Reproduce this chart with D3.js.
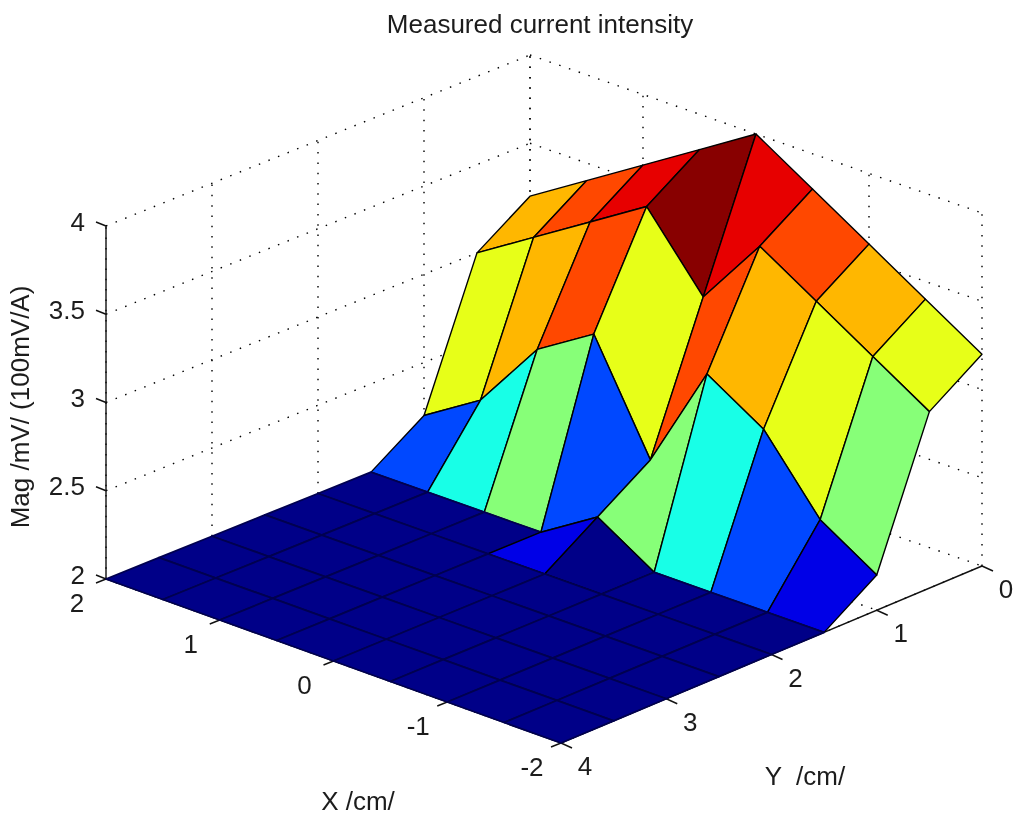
<!DOCTYPE html>
<html>
<head>
<meta charset="utf-8">
<script src="https://cdn.jsdelivr.net/npm/d3@7"></script>
<style>
html,body{margin:0;padding:0;background:#fff;}
svg{display:block;filter:blur(0.45px);}
text{font-family:"Liberation Sans",Arial,sans-serif;fill:#1c1c1c;}
</style>
</head>
<body>
<svg id="chart" width="1024" height="821"></svg>
<script>
const titleText = "Measured current intensity";
const xLabel = "X /cm/";
const yLabel = "Y  /cm/";
const zLabel = "Mag /mV/ (100mV/A)";

const xValues = [-2,-1.5,-1,-0.5,0,0.5,1,1.5,2];
const yValues = [0,0.5,1,1.5,2,2.5,3,3.5,4];
const z_y0   = [3.2,3.4,3.6,3.8,4.0,3.8,3.6,3.4,3.2];
const z_y05  = [3.0,3.2,3.4,3.6,3.2,3.6,3.4,3.2,3.0];
const z_y1   = [2.2,2.4,2.8,3.0,2.4,3.0,2.8,2.4,2.2];
const z_y15  = [2,2,2,2,2.2,2,2,2,2];
const z_y2   = [2,2,2,2,2,2,2,2,2];
const z_y25  = [2,2,2,2,2,2,2,2,2];
const z_y3   = [2,2,2,2,2,2,2,2,2];
const z_y35  = [2,2,2,2,2,2,2,2,2];
const z_y4   = [2,2,2,2,2,2,2,2,2];
const zRows = [z_y0,z_y05,z_y1,z_y15,z_y2,z_y25,z_y3,z_y35,z_y4];

const xTicks = [-2,-1,0,1,2];
const yTicks = [0,1,2,3,4];
const zTicks = [2,2.5,3,3.5,4];
const xTickLabels = ["-2","-1","0","1","2"];
const yTickLabels = ["0","1","2","3","4"];
const zTickLabels = ["2","2.5","3","3.5","4"];

const svg = d3.select("#chart");

// projection: floor corners through linear scales, height through a linear scale
const uScale = d3.scaleLinear().domain([2,-2]).range([0,1]);
const wScale = d3.scaleLinear().domain([0,4]).range([0,1]);
const backEdgeX = d3.scaleLinear().domain([0,1]).range([530,982]);
const backEdgeY = d3.scaleLinear().domain([0,1]).range([408,566]);
const frontEdgeX = d3.scaleLinear().domain([0,1]).range([106,561]);
const frontEdgeY = d3.scaleLinear().domain([0,1]).range([579,743]);
const zScale = d3.scaleLinear().domain([2,4]).range([0,-353]);
function project(x,y,z){
  const u = uScale(x), w = wScale(y);
  const px = backEdgeX(u)*(1-w)+frontEdgeX(u)*w;
  const py = backEdgeY(u)*(1-w)+frontEdgeY(u)*w;
  return [px, py+zScale(z)];
}
const line = d3.line();

// jet colormap, 64 levels
const jet = d3.scaleLinear()
  .domain([0,0.125,0.375,0.625,0.875,1])
  .range(["#000080","#0000ff","#00ffff","#ffff00","#ff0000","#800000"]);
const levels = d3.scaleQuantize().domain([2,4]).range(d3.range(64).map(i=>(i+0.5)/64));
const colour = z => jet(levels(z));

// dotted grid
const grid = svg.append("g").attr("fill","none").attr("stroke","#000")
  .attr("stroke-width",1.4).attr("stroke-dasharray","1.5 8.8");
const seg = (a,b)=>grid.append("path").attr("d",line([a,b]));
zTicks.forEach(z=>{
  if(z>2) seg(project(2,4,z),project(2,0,z));
  seg(project(2,0,z),project(-2,0,z));
});
xTicks.forEach(x=>{
  seg(project(x,0,2),project(x,0,4));
  if(x<2) seg(project(x,0,2),project(x,4,2));
});
yTicks.forEach(y=>{
  seg(project(2,y,2),project(2,y,4));
  if(y>0) seg(project(2,y,2),project(-2,y,2));
});

// axis lines
const axes = svg.append("g").attr("fill","none").attr("stroke","#111").attr("stroke-width",1.4);
axes.append("path").attr("d",line([project(2,4,4),project(2,4,2),project(-2,4,2),project(-2,0,2)]));
zTicks.forEach(z=>{
  const p = project(2,4,z);
  axes.append("path").attr("d",line([p,[p[0]-10,p[1]-4]]));
});
xTicks.forEach(x=>{
  const p = project(x,4,2);
  axes.append("path").attr("d",line([p,[p[0]-10,p[1]+4]]));
});
yTicks.forEach(y=>{
  const p = project(-2,y,2);
  axes.append("path").attr("d",line([p,[p[0]+11,p[1]+5]]));
});

// surface, painted back to front
const surf = svg.append("g");
for(let j=0;j<yValues.length-1;j++){
  for(let i=xValues.length-2;i>=0;i--){
    const corners = [zRows[j][i],zRows[j][i+1],zRows[j+1][i+1],zRows[j+1][i]];
    const flat = d3.max(corners)===2;
    const pts = [
      project(xValues[i],yValues[j],corners[0]),
      project(xValues[i+1],yValues[j],corners[1]),
      project(xValues[i+1],yValues[j+1],corners[2]),
      project(xValues[i],yValues[j+1],corners[3])
    ];
    surf.append("path").attr("d",line(pts)+"Z")
      .attr("fill",colour(corners[0]))
      .attr("stroke",flat?"#000050":"#000")
      .attr("stroke-width",flat?1.8:1.4)
      .attr("stroke-linejoin","round");
  }
}

// text
const fs = 26;
svg.append("text").attr("x",540).attr("y",33).attr("text-anchor","middle").attr("font-size",fs).text(titleText);
zTicks.forEach((z,i)=>{
  const p = project(2,4,z);
  svg.append("text").attr("x",p[0]-21).attr("y",p[1]+4.5).attr("text-anchor","end").attr("font-size",fs).text(zTickLabels[i]);
});
xTicks.forEach((x,i)=>{
  const p = project(x,4,2);
  svg.append("text").attr("x",p[0]-29).attr("y",p[1]+33).attr("text-anchor","middle").attr("font-size",fs).text(xTickLabels[i]);
});
yTicks.forEach((y,i)=>{
  const p = project(-2,y,2);
  svg.append("text").attr("x",p[0]+24).attr("y",p[1]+32).attr("text-anchor","middle").attr("font-size",fs).text(yTickLabels[i]);
});
svg.append("text").attr("x",358).attr("y",810).attr("text-anchor","middle").attr("font-size",fs).text(xLabel);
svg.append("text").attr("x",805).attr("y",785).attr("text-anchor","middle").attr("font-size",fs).attr("xml:space","preserve").style("white-space","pre").text(yLabel);
svg.append("text").attr("transform","translate(29,407) rotate(-90)").attr("text-anchor","middle").attr("font-size",fs).text(zLabel);
</script>
</body>
</html>
